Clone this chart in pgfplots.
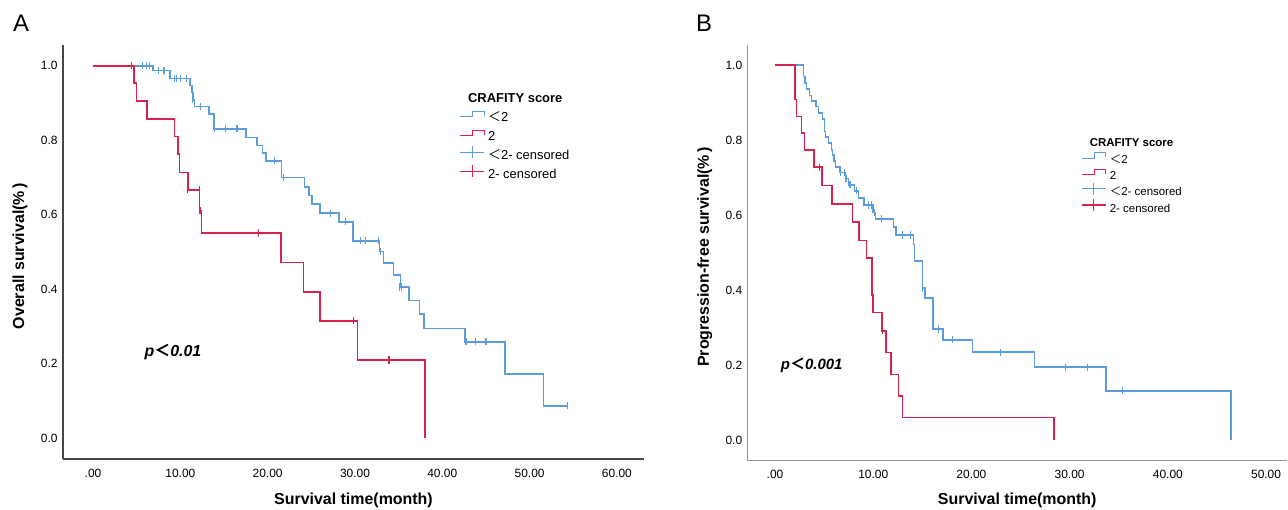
\documentclass[border=0pt]{standalone}
\usepackage{fontspec}
\setmainfont{Liberation Sans}
\newfontfamily\cjk{Noto Sans CJK SC}
\usepackage{pgfplots}
\pgfplotsset{compat=1.18}

\definecolor{kmblue}{RGB}{92,156,220}
\definecolor{kmred}{RGB}{214,34,76}

\pgfplotsset{
  km/.style={
    scale only axis,
    axis lines=left,
    axis line style={-, line width=1.1bp},
    major tick length=0pt,
    tick style={draw=none},
    ytick={0,0.2,0.4,0.6,0.8,1},
    yticklabels={0.0,0.2,0.4,0.6,0.8,1.0},
    tick label style={font=\fontsize{12}{14}\selectfont},
    xticklabel style={anchor=center, yshift=-14bp},
    yticklabel style={anchor=east, xshift=-2bp},
    label style={font=\bfseries\fontsize{16}{18}\selectfont},
    clip=false,
  },
  stepblue/.style={legend image code/.code={\path[draw=none,fill=none,use as bounding box] (0bp,0bp) rectangle (24bp,9bp);
    \draw[kmblue,line width=1.2bp] (0bp,1.5bp) -- (12.5bp,1.5bp) -- (12.5bp,7bp) -- (24bp,7bp) -- (24bp,2.5bp);}},
  stepred/.style={legend image code/.code={\path[draw=none,fill=none,use as bounding box] (0bp,0bp) rectangle (24bp,9bp);
    \draw[kmred,line width=1.2bp] (0bp,1.5bp) -- (12.5bp,1.5bp) -- (12.5bp,7bp) -- (24bp,7bp) -- (24bp,2.5bp);}},
  crossblue/.style={legend image code/.code={\path[draw=none,fill=none,use as bounding box] (0bp,0bp) rectangle (24bp,9bp);
    \draw[kmblue,line width=1.2bp] (0bp,4bp) -- (24bp,4bp) (12bp,-2bp) -- (12bp,10bp);}},
  crossred/.style={legend image code/.code={\path[draw=none,fill=none,use as bounding box] (0bp,0bp) rectangle (24bp,9bp);
    \draw[kmred,line width=1.2bp] (0bp,4bp) -- (24bp,4bp) (12bp,-2bp) -- (12bp,10bp);}},
  curve/.style={const plot, line width=1.6bp, forget plot},
  cens/.style={only marks, mark=|, mark size=3.6bp, mark options={line width=1.1bp}, forget plot},
}

\begin{document}
\begin{tikzpicture}
\path[use as bounding box] (0,0) rectangle (1288bp,510bp);

% ---------------- A: overall survival
\begin{axis}[km,
  at={(63bp,51bp)}, anchor=south west,
  width=581bp, height=414bp,
  xmin=-3.44, xmax=63.1, ymin=-0.056, ymax=1.056,
  axis line style={black!72},
  xtick={0,10,20,30,40,50,60},
  xticklabels={.00,10.00,20.00,30.00,40.00,50.00,60.00},
  xlabel={Survival time(month)},
  ylabel={Overall survival(\%\hspace{2.5bp})},
  xlabel style={at={(axis description cs:0.5,-0.099)}, anchor=center},
  ylabel style={at={(axis description cs:-0.074,0.49)}, anchor=center},
  legend style={at={(rel axis cs:0.678,0.889)}, anchor=north west, draw=none, fill=none,
    font=\fontsize{13}{15}\selectfont, cells={anchor=west}, column sep=4bp, row sep=4bp,
    nodes={inner sep=0pt, text height=9.5bp, text depth=2.5bp}},
]
\addplot[curve, kmblue] coordinates {
  (0,1) (6.9,0.987) (8.8,0.966) (11.1,0.947) (11.3,0.928) (11.45,0.909) (11.6,0.891)
  (13.3,0.871) (13.86,0.831) (17.5,0.808) (18.8,0.786) (19.4,0.766) (19.8,0.745)
  (21.6,0.700) (24.2,0.674) (24.7,0.652) (25.1,0.629) (26.0,0.604) (28.2,0.581)
  (29.8,0.530) (32.8,0.501) (33.25,0.470) (34.4,0.439) (35.2,0.406) (36.2,0.370)
  (37.4,0.333) (37.9,0.295) (42.6,0.259) (47.2,0.172) (51.6,0.087) (54.3,0.087)
};
\addplot[cens, kmblue] coordinates {
  (5.7,1) (6.15,1) (6.5,1) (7.5,0.987) (8.06,0.987) (8.2,0.987) (9.3,0.966) (9.6,0.966)
  (9.97,0.966) (10.7,0.966) (11.4,0.909) (12.26,0.891) (13.9,0.831) (15.2,0.831)
  (16.4,0.831) (16.5,0.831) (20.8,0.745) (21.8,0.700) (27.2,0.604) (28.9,0.581)
  (30.6,0.530) (31.2,0.530) (32.7,0.530) (32.9,0.501) (35.05,0.406) (35.3,0.406)
  (42.65,0.259) (42.8,0.259) (43.8,0.259) (45.0,0.259) (54.3,0.087)
};
\addplot[curve, kmred] coordinates {
  (0,1) (4.7,0.954) (5.0,0.906) (6.15,0.858) (9.35,0.810) (9.75,0.763) (9.9,0.714)
  (10.85,0.667) (12.2,0.611) (12.4,0.551) (21.5,0.472) (24.1,0.392) (26.0,0.315)
  (30.3,0.210) (38.0,0)
};
\addplot[cens, kmred] coordinates {
  (4.43,1) (10.85,0.667) (12.15,0.667) (12.25,0.611) (18.9,0.551) (29.8,0.315) (33.9,0.210)
};
\addlegendimage{empty legend}
\addlegendentry{\hspace{-20bp}\textbf{CRAFITY score}}
\addlegendimage{stepblue}
\addlegendentry{{\cjk ＜}2}
\addlegendimage{stepred}
\addlegendentry{2}
\addlegendimage{crossblue}
\addlegendentry{{\cjk ＜}2- censored}
\addlegendimage{crossred}
\addlegendentry{2- censored}
\node[anchor=west, font=\bfseries\itshape\fontsize{16}{18}\selectfont] at (axis cs:5.5,0.232) {p{\cjk\bfseries ＜}0.01};
\end{axis}

% ---------------- B: progression-free survival
\begin{axis}[km,
  at={(747.7bp,49.5bp)}, anchor=south west,
  width=539bp, height=415.5bp,
  xmin=-2.78, xmax=52.1, ymin=-0.055, ymax=1.054,
  axis line style={black!42},
  xtick={0,10,20,30,40,50},
  xticklabels={.00,10.00,20.00,30.00,40.00,50.00},
  xlabel={Survival time(month)},
  ylabel={Progression-free survival(\%\hspace{2.5bp})},
  xlabel style={at={(axis description cs:0.5,-0.096)}, anchor=center},
  ylabel style={at={(axis description cs:-0.0798,0.49)}, anchor=center},
  legend style={at={(rel axis cs:0.614,0.781)}, anchor=north west, draw=none, fill=none,
    font=\fontsize{11.5}{13.5}\selectfont, cells={anchor=west}, column sep=4bp, row sep=2bp,
    nodes={inner sep=0pt, text height=8.5bp, text depth=2.2bp}},
]
\addplot[curve, kmblue] coordinates {
  (0,1) (2.89,0.970) (3.06,0.952) (3.22,0.937) (3.5,0.919) (3.73,0.905) (4.17,0.890)
  (4.41,0.872) (4.85,0.857) (5.03,0.823) (5.16,0.808) (5.43,0.793) (5.77,0.774)
  (5.87,0.760) (6.0,0.745) (6.14,0.729) (6.62,0.714) (7.16,0.698) (7.47,0.681)
  (8.08,0.665) (8.49,0.645) (9.06,0.627) (10.0,0.607) (10.25,0.590) (12.05,0.568)
  (12.3,0.547) (14.1,0.522) (14.2,0.478) (15.0,0.405) (15.3,0.378) (16.06,0.296)
  (17.1,0.267) (20.1,0.234) (26.4,0.194) (33.7,0.131) (46.4,0)
};
\addplot[cens, kmblue] coordinates {
  (6.65,0.714) (7.06,0.714) (7.23,0.698) (7.64,0.681) (8.32,0.665) (9.5,0.627)
  (9.78,0.627) (10.1,0.607) (10.86,0.590) (13.0,0.547) (13.75,0.547) (15.0,0.405)
  (16.6,0.296) (18.05,0.267) (23.0,0.234) (29.6,0.194) (31.8,0.194) (35.4,0.131)
};
\addplot[curve, kmred] coordinates {
  (0,1) (2.04,0.909) (2.2,0.863) (2.7,0.819) (3.0,0.774) (4.0,0.728) (4.8,0.679)
  (5.8,0.630) (7.9,0.581) (8.55,0.532) (9.33,0.485) (9.85,0.387) (10.0,0.340)
  (10.9,0.291) (11.3,0.233) (11.8,0.175) (12.56,0.117) (13.0,0.060) (28.4,0)
};
\addplot[cens, kmred] coordinates {
  (4.5,0.728) (10.9,0.291)
};
\addlegendimage{empty legend}
\addlegendentry{\hspace{-20bp}\textbf{CRAFITY score}}
\addlegendimage{stepblue}
\addlegendentry{{\cjk ＜}2}
\addlegendimage{stepred}
\addlegendentry{2}
\addlegendimage{crossblue}
\addlegendentry{{\cjk ＜}2- censored}
\addlegendimage{crossred}
\addlegendentry{2- censored}
\node[anchor=west, font=\bfseries\itshape\fontsize{15}{17}\selectfont] at (axis cs:0.25,0.2) {p{\cjk\bfseries ＜}0.001};
\end{axis}

\node[font=\fontsize{24}{26}\selectfont] at (21bp,487bp) {A};
\node[font=\fontsize{24}{26}\selectfont] at (704bp,487bp) {B};
\end{tikzpicture}
\end{document}
